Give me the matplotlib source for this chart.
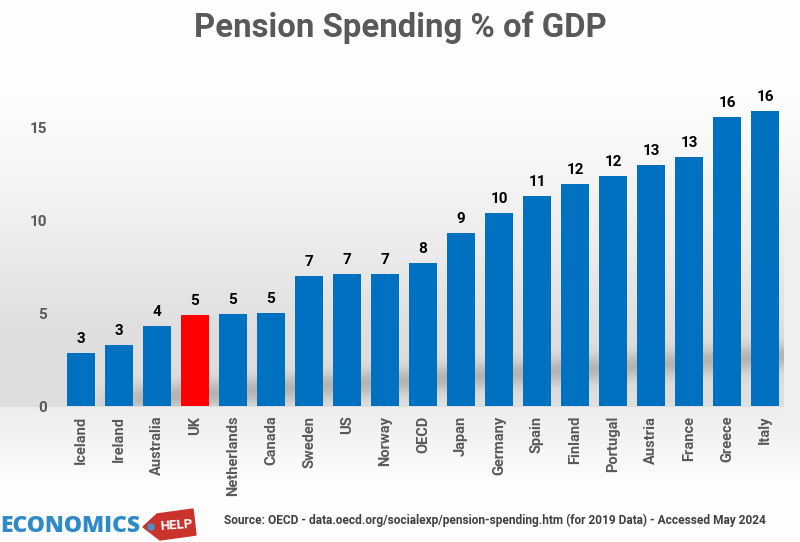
import numpy as np
import matplotlib
matplotlib.use("Agg")
import matplotlib.pyplot as plt
from matplotlib.patches import Polygon, Circle

countries = ["Iceland", "Ireland", "Australia", "UK", "Netherlands", "Canada", "Sweden", "US",
             "Norway", "OECD", "Japan", "Germany", "Spain", "Finland", "Portugal", "Austria",
             "France", "Greece", "Italy"]
spending = [2.85, 3.3, 4.3, 4.9, 4.95, 5.0, 7.0, 7.1, 7.1, 7.7, 9.35, 10.4, 11.3, 11.95, 12.4,
            13.0, 13.4, 15.6, 15.9]
yticks = [0, 5, 10, 15]
title = "Pension Spending % of GDP"
source = "Source: OECD - data.oecd.org/socialexp/pension-spending.htm (for 2019 Data) - Accessed May 2024"

W, H = 800, 542
fig = plt.figure(figsize=(W / 100, H / 100), dpi=100)

# background gradient, full figure in pixel coords
bg = fig.add_axes([0, 0, 1, 1])
bg.set_xlim(0, W)
bg.set_ylim(H, 0)
bg.axis("off")
yy, xx = np.mgrid[0:H, 0:W]
shade = np.ones((H, W)) * 254.0
ramp = np.clip((yy - 70) / 260.0, 0, 1)
shade -= 32 * ramp ** 1.3
below = np.clip((yy - 406) / 80.0, 0, 1)
shade = np.where(yy > 406, 236 + 17 * below, shade)
# slanted shadow band behind the bars
band = 400 - (xx - 100) * 0.065
shadow = 42 * np.exp(-((yy - band) / 13.0) ** 2) * np.clip((xx - 85) / 60.0, 0, 1)
shadow[(yy >= 406) | (xx > 784)] = 0
shade -= shadow
shade[:, 784:] = np.maximum(shade[:, 784:], 240)
bg.imshow(shade, cmap="gray", vmin=0, vmax=255, extent=[0, W, H, 0], aspect="auto")
bg.set_xlim(0, W)
bg.set_ylim(H, 0)

# logo
bg.text(0, 526, "ECONOMICS", color="#2E8BC8", fontsize=16.5, fontweight="black",
        family="Open Sans", va="center", ha="left")
bg.add_patch(Polygon([[143, 527], [157, 514], [193, 509], [196, 535], [160, 540]], color="#C8342C"))
bg.add_patch(Circle((151, 527), 3, color="#4A90C8"))
bg.text(176, 525, "HELP", color="white", fontsize=9.5, fontweight="bold", family="Roboto",
        ha="center", va="center", rotation=4)

bg.text(400, 28, title, color="#595959", fontsize=23.7, fontweight="bold", family="Roboto",
        ha="center", va="center")
bg.text(495, 520, source, color="#404040", fontsize=8.55, fontweight="bold", family="Roboto",
        ha="center", va="center")

# chart axes: y=0 at pixel 406, 15 at 127.5; bars 38 px apart from 81 px
ax = fig.add_axes([62 / W, (H - 406) / H, (784 - 62) / W, (406 - 90) / H])
ax.patch.set_alpha(0)
x = np.arange(len(countries))
colors = ["#FF0000" if c == "UK" else "#0070C0" for c in countries]
ax.bar(x, spending, width=0.72, color=colors)
for xi, v in zip(x, spending):
    ax.text(xi, v + 0.38, f"{v:.0f}", ha="center", va="bottom", fontsize=11, fontweight="bold",
            family="Roboto", color="black")
ax.set_xlim(-0.5, len(countries) - 0.5)
ax.set_ylim(0, 316 / 18.55)
ax.set_yticks(yticks)
ax.set_xticks(x)
ax.set_xticklabels(countries, rotation=90, fontsize=10.5, fontweight="bold", family="Roboto",
                   color="#595959")
ax.tick_params(length=0)
ax.tick_params(axis="x", pad=7)
ax.tick_params(axis="y", pad=11)
for lab in ax.get_yticklabels():
    lab.set_fontsize(11)
    lab.set_fontweight("bold")
    lab.set_family("Roboto")
    lab.set_color("#595959")
for s in ax.spines.values():
    s.set_visible(False)

fig.savefig("out.png", dpi=100)
